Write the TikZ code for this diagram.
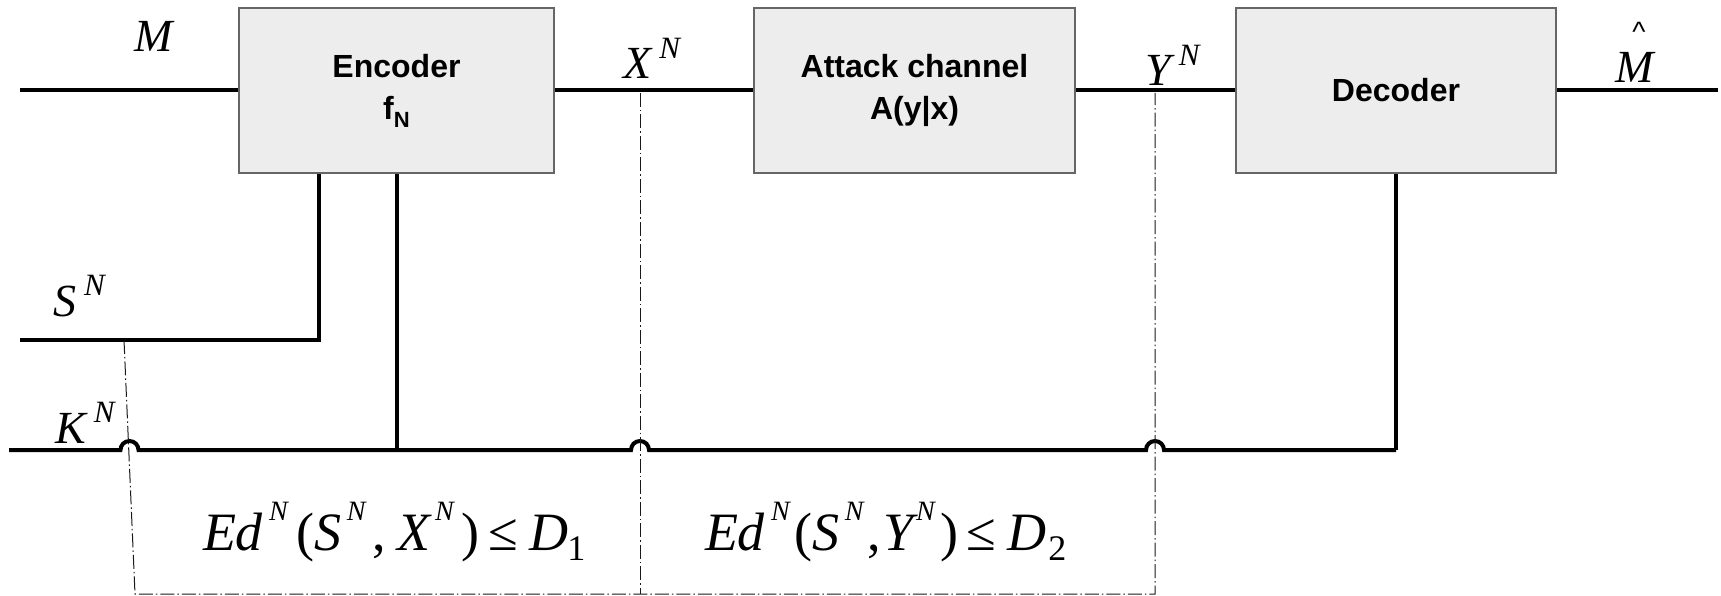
\documentclass[tikz,border=0pt]{standalone}
\usepackage{fontspec}
\setmainfont{Liberation Serif}
\setsansfont{Liberation Sans}
\newcommand{\Sp}[1]{\kern8pt\raisebox{0.44em}{\fontsize{31}{31}\selectfont\itshape #1}}
\newcommand{\Fp}[1]{\raisebox{0.55em}{\fontsize{28}{28}\selectfont\itshape #1}}
\newcommand{\Fb}[1]{\raisebox{-0.2em}{\fontsize{36}{36}\selectfont\upshape #1}}
\begin{document}
\begin{tikzpicture}[x=1pt,y=-1pt,
  blk/.style={draw=black!60, line width=1.5pt, fill=black!7, minimum width=#1, minimum height=165pt, inner sep=0pt, align=center, font=\sffamily\bfseries\fontsize{32}{42}\selectfont},
  wire/.style={line width=4pt},
  ddot/.style={line width=1pt, black!90, dash pattern=on 14pt off 3pt on 1.5pt off 3pt},
  lbl/.style={inner sep=0pt, anchor=base west, font=\fontsize{46}{46}\selectfont\itshape},
  frm/.style={inner sep=0pt, anchor=base west, font=\fontsize{54}{54}\selectfont\itshape}]
\useasboundingbox (0,0) rectangle (1721,596);
% blocks
\node[blk=315pt] (enc) at (396.5,90.5) {Encoder\\ f\raisebox{-0.25em}{\fontsize{22}{22}\selectfont N}};
\node[blk=321pt] (att) at (914.5,90.5) {Attack channel\\ A(y|x)};
\node[blk=320pt] (dec) at (1396,90.5) {Decoder};
% coordinates
\coordinate (min) at (20,90.5);
\coordinate (mout) at (1718,90.5);
\coordinate (sin) at (20,340);
\coordinate (scorner) at (319,340);
\coordinate (kin) at (9,450);
\coordinate (kenc) at (396.5,450);
\coordinate (kdec) at (1396,450);
\coordinate (h1) at (129.5,450);
\coordinate (h2) at (640,450);
\coordinate (h3) at (1155,450);
\coordinate (sd) at (124,340);
\coordinate (bl) at (135,594);
\coordinate (xd) at (640,93);
\coordinate (yd) at (1155,93);
% wires
\draw[wire] (min) -- (enc.west);
\draw[wire] (enc.east) -- (att.west);
\draw[wire] (att.east) -- (dec.west);
\draw[wire] (dec.east) -- (mout);
\draw[wire] (sin) -- (scorner) -- (scorner |- enc.south);
\draw[wire] (kenc) -- (enc.south);
\draw[wire] (kdec) -- (dec.south);
\draw[wire] (kin) -- ([xshift=-9pt]h1) arc[start angle=180, end angle=0, radius=9pt]
  -- ([xshift=-9pt]h2) arc[start angle=180, end angle=0, radius=9pt]
  -- ([xshift=-9pt]h3) arc[start angle=180, end angle=0, radius=9pt]
  -- (kdec);
% dash-dot guides
\draw[ddot] (sd) -- (bl) -- (bl -| yd) -- (yd);
\draw[ddot] (xd) -- (xd |- bl);
% labels
\node[lbl] (m) at (134,52) {M};
\node[lbl] (xn) at (623,79) {X\Sp{N}};
\node[lbl] (yn) at (1145,86) {Y\Sp{N}};
\node[lbl] (mh) at (1615,83) {M};
\node[inner sep=0pt, font=\sffamily\fontsize{28}{28}\selectfont] (hat) at (1639,32) {\textasciicircum};
\node[lbl] (sn) at (53,316) {S\Sp{N}};
\node[lbl] (kn) at (55,443) {K\Sp{N}};
\node[frm] (d1) at (203,550) {E\kern-1pt d\kern7pt\Fp{N}\kern9pt{\upshape(}S\kern5pt\Fp{N}\kern7pt{\upshape,}\kern11pt X\kern5pt\Fp{N}\kern8pt{\upshape)}\kern9pt{\upshape≤}\kern11pt D\kern-1pt\Fb{1}};
\node[frm] (d2) at (705,550) {E\kern-1pt d\kern7pt\Fp{N}\kern5pt{\upshape(}S\kern5pt\Fp{N}\kern4pt{\upshape,}\kern2pt Y\kern3pt\Fp{N}\kern6pt{\upshape)}\kern8pt{\upshape≤}\kern11pt D\kern2pt\Fb{2}};
\end{tikzpicture}
\end{document}
